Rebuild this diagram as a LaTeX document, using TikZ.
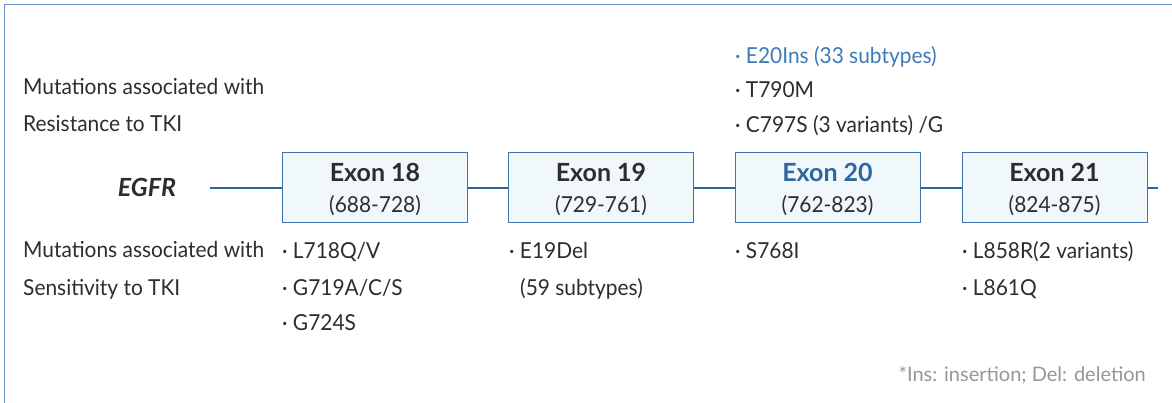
\documentclass[tikz,border=0pt]{standalone}
\usepackage{fontspec}
\setmainfont{Lato}
\newfontfamily\narrowlato[FakeStretch=0.95]{Lato}
\definecolor{framecol}{RGB}{105,148,196}
\definecolor{spine}{RGB}{45,102,160}
\definecolor{boxfill}{RGB}{240,248,252}
\definecolor{boxline}{RGB}{62,116,172}
\definecolor{txt}{RGB}{45,45,45}
\definecolor{hilite}{RGB}{45,102,160}
\definecolor{hilitelight}{RGB}{62,122,182}
\definecolor{note}{RGB}{150,150,150}
\tikzset{
  exonbox/.style={draw=boxline, line width=1pt, fill=boxfill,
    minimum width=185pt, minimum height=70pt, inner sep=0pt},
  bodytext/.style={anchor=base west, inner sep=0pt, text=txt,
    font=\narrowlato\fontsize{22}{26}\selectfont},
  exontitle/.style={anchor=base, inner sep=0pt, text=txt,
    font=\fontsize{25}{30}\selectfont\bfseries},
  exonrange/.style={anchor=base, inner sep=0pt, text=txt,
    font=\narrowlato\fontsize{22}{26}\selectfont},
  spinelink/.style={draw=spine, line width=2.4pt},
}
\begin{document}
\begin{tikzpicture}[x=1pt,y=-1pt]
\useasboundingbox (0,0) rectangle (1172,403);
% open frame: left and top edges only
\draw[framecol, line width=1.6pt] (4.5,403) -- (4.5,4.5) -- (1172,4.5);

% row labels
\node[bodytext] (resA) at (23,95) {Mutations associated with};
\node[bodytext] (resB) at (23,132) {Resistance to TKI};
\node[bodytext] (senA) at (23,258) {Mutations associated with};
\node[bodytext] (senB) at (23,295) {Sensitivity to TKI};

% gene name and exon boxes
\node[anchor=base, inner sep=0pt, text=txt,
  font=\fontsize{25}{30}\selectfont\bfseries\itshape] (egfr) at (147,197) {EGFR};
\coordinate (spineL) at (210,188);
\coordinate (spineR) at (1158,188);
\node[exonbox] (ex18) at (375,188) {};
\node[exonbox] (ex19) at (601,188) {};
\node[exonbox] (ex20) at (827.5,188) {};
\node[exonbox] (ex21) at (1054.5,188) {};

\draw[spinelink] (spineL) -- (ex18.west);
\draw[spinelink] (ex18.east) -- (ex19.west);
\draw[spinelink] (ex19.east) -- (ex20.west);
\draw[spinelink] (ex20.east) -- (ex21.west);
\draw[spinelink] (ex21.east) -- (spineR);

\node[exontitle] (t18) at (375,182) {Exon 18};
\node[exonrange] (r18) at (375,213) {(688-728)};
\node[exontitle] (t19) at (601,182) {Exon 19};
\node[exonrange] (r19) at (601,213) {(729-761)};
\node[exontitle, text=hilite] (t20) at (827.5,182) {Exon 20};
\node[exonrange] (r20) at (827.5,213) {(762-823)};
\node[exontitle] (t21) at (1054.5,182) {Exon 21};
\node[exonrange] (r21) at (1054.5,213) {(824-875)};

% resistance mutations (exon 20)
\node[bodytext, text=hilitelight] (m20a) at (735,64) {· E20Ins (33 subtypes)};
\node[bodytext] (m20b) at (735,98) {· T790M};
\node[bodytext] (m20c) at (735,133) {· C797S (3 variants) /G};

% sensitivity mutations
\node[bodytext] (m18a) at (282,259) {· L718Q/V};
\node[bodytext] (m18b) at (282,295) {· G719A/C/S};
\node[bodytext] (m18c) at (282,330) {· G724S};
\node[bodytext] (m19a) at (509,259) {· E19Del};
\node[bodytext] (m19b) at (520,295) {(59 subtypes)};
\node[bodytext] (m20s) at (735,259) {· S768I};
\node[bodytext] (m21a) at (962,259) {· L858R(2 variants)};
\node[bodytext] (m21b) at (962,295) {· L861Q};

% footnote
\node[anchor=base east, inner sep=0pt, text=note,
  font=\fontsize{20}{24}\selectfont] (fn) at (1146,381) {*Ins: insertion; Del: deletion};
\end{tikzpicture}
\end{document}
